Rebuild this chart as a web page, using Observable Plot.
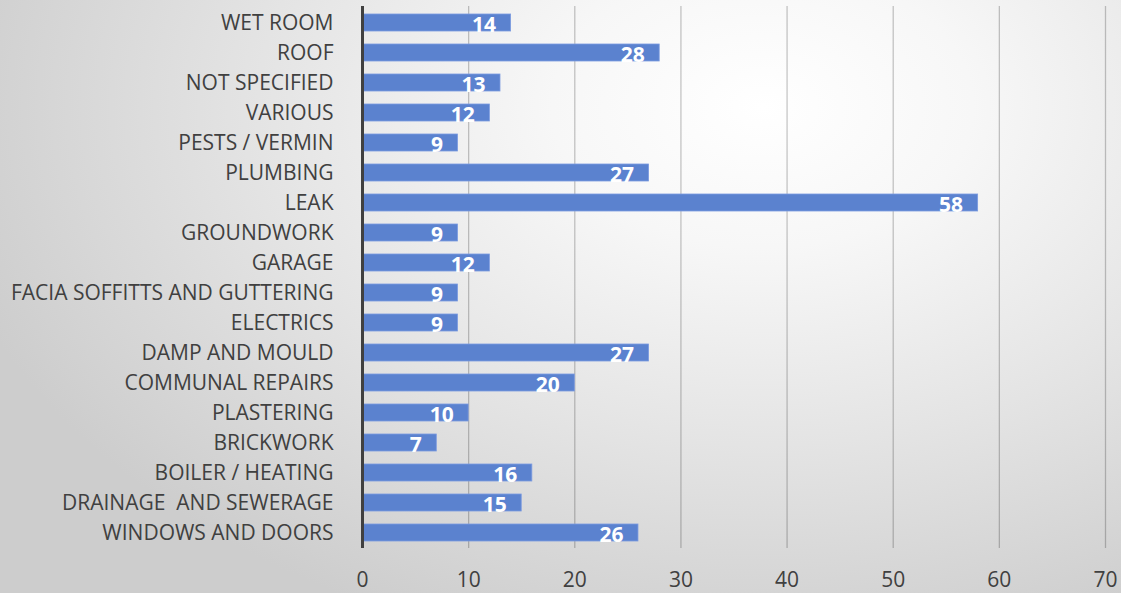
<!DOCTYPE html>
<html>
<head>
<meta charset="utf-8">
<script src="https://cdn.jsdelivr.net/npm/d3@7"></script>
<script src="https://cdn.jsdelivr.net/npm/@observablehq/plot@0.6"></script>
<style>
  html, body { margin: 0; padding: 0; }
  body {
    width: 1121px; height: 593px; overflow: hidden;
    background: radial-gradient(ellipse 75% 95% at 68% 18%, #ffffff 0%, #f7f7f7 25%, #e4e4e4 60%, #cdcdcd 100%);
  }
  #chart svg { background: transparent; display: block; }
</style>
</head>
<body>
<div id="chart"></div>
<script>
const categories = [
  "WET ROOM", "ROOF", "NOT SPECIFIED", "VARIOUS", "PESTS / VERMIN", "PLUMBING", "LEAK",
  "GROUNDWORK", "GARAGE", "FACIA SOFFITTS AND GUTTERING", "ELECTRICS", "DAMP AND MOULD",
  "COMMUNAL REPAIRS", "PLASTERING", "BRICKWORK", "BOILER / HEATING", "DRAINAGE  AND SEWERAGE",
  "WINDOWS AND DOORS"
];
const counts = [14, 28, 13, 12, 9, 27, 58, 9, 12, 9, 9, 27, 20, 10, 7, 16, 15, 26];
const xTicks = [0, 10, 20, 30, 40, 50, 60, 70];

const data = categories.map((c, i) => ({category: c, count: counts[i]}));

const chart = Plot.plot({
  width: 1121,
  height: 593,
  marginLeft: 362,
  marginRight: 16,
  marginTop: 6,
  marginBottom: 45,
  style: {fontFamily: "'Open Sans', sans-serif", fontSize: "21px", color: "#404040", background: "transparent"},
  x: {domain: [0, 70], ticks: xTicks, label: null, tickSize: 0, tickPadding: 24},
  y: {domain: categories, label: null, tickSize: 0, tickPadding: 29, paddingInner: 0.44, paddingOuter: 0.22},
  marks: [
    Plot.ruleX(xTicks.filter(d => d > 0), {stroke: "#000000", strokeOpacity: 0.22, strokeWidth: 1.3}),
    Plot.barX(data, {x: "count", y: "category", fill: "#5b82cf", stroke: "#7c9be0", strokeWidth: 0.8}),
    Plot.ruleX([0], {stroke: "#404040", strokeWidth: 3}),
    Plot.text(data, {x: "count", y: "category", text: d => String(d.count), textAnchor: "end", dx: -15, dy: 2,
      fill: "white", fontWeight: "bold", fontSize: 21})
  ]
});
document.getElementById("chart").append(chart);
</script>
</body>
</html>
